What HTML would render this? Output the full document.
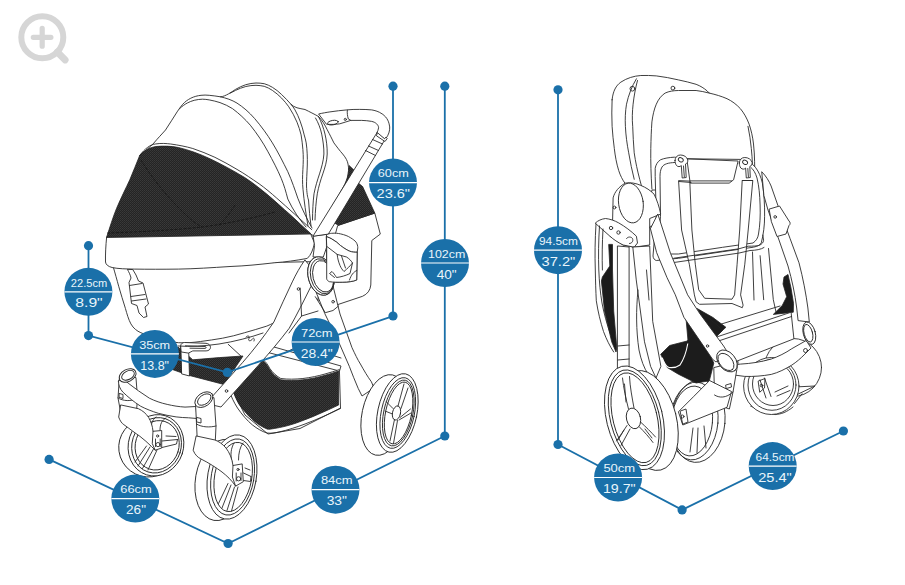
<!DOCTYPE html>
<html><head><meta charset="utf-8">
<style>
html,body{margin:0;padding:0;background:#fff;}
body{width:905px;height:585px;overflow:hidden;font-family:"Liberation Sans",sans-serif;}
svg{display:block;position:absolute;left:0;top:0;}
.ln{fill:none;stroke:#2a2a2a;stroke-width:0.9;stroke-linecap:round;stroke-linejoin:round;}
.wf{fill:#fff;stroke:#2a2a2a;stroke-width:0.9;stroke-linecap:round;stroke-linejoin:round;}
.bk{fill:#1c1c1c;stroke:#222;stroke-width:0.8;stroke-linejoin:round;}
.bl{fill:none;stroke:#1a70a9;stroke-width:1.8;stroke-linecap:round;}
.bd{fill:#1a70a9;}
.t1{fill:#e9f5fb;font-family:"Liberation Sans",sans-serif;font-size:11.5px;text-anchor:middle;}
.t2{fill:#e9f5fb;font-family:"Liberation Sans",sans-serif;font-size:12.5px;text-anchor:middle;}
.dv{stroke:#fff;stroke-width:1.2;}
</style></head><body>
<svg width="905" height="585" viewBox="0 0 905 585">
<!-- MAGNIFIER -->
<g id="mag" fill="none" stroke="#d6d6d6" stroke-linecap="round">
<circle cx="42.3" cy="37.3" r="21" stroke-width="6"/>
<path d="M33.3 37.3H50.9M42.2 28.4V46.2" stroke-width="5.2"/>
<path d="M57.3 52L65.2 60" stroke-width="6.8"/>
</g>
<!-- STROLLER-LEFT -->
<g id="sl">
<!--SL1-->
<defs>
<pattern id="mesh" width="2" height="2" patternUnits="userSpaceOnUse"><rect width="2" height="2" fill="#242424"/><rect width="1" height="1" fill="#3a3a3a"/><rect x="1" y="1" width="1" height="1" fill="#343434"/></pattern>
</defs>
<!-- rear body (right side box) -->
<path class="wf" d="M338 225.5L374.8 213.1L380.3 234.1L371.8 240.5L370.8 285Q370 293 362.5 296.3L338 304.5L318 300Z"/>
<!-- rear mesh -->
<path class="bk" fill="url(#mesh)" d="M345 172L362.6 186.6L374.8 213.1L338.3 225.2L326 218Z" style="fill:url(#mesh)"/>
<!-- canopy -->
<path class="wf" d="M139.8 155.3C146 150 150 147 153 144C158 138 162 134 165.5 130C169.5 124 173.5 117.5 177.1 111.9C179 109 180.8 106.5 182.6 104.4C185 101.7 187.8 99.7 190.8 98.2C194 96.6 197.5 95.7 201 95.3C203.7 95 206.5 95 209.2 95.3C213 95.6 216.7 96.2 220.4 96.8C223.5 96.6 226 95.2 228.3 94C231 92.5 233.2 90.9 235.5 89.4C238.8 87.4 242.2 85.9 245.8 84.7C249.2 83.7 252.6 83.1 256 83C258.8 83 261.5 83.2 264.2 83.7C267 84.5 269.8 85.7 272.4 87.3C275.7 89.3 278.7 91.7 281.6 94.5C285 97.7 288 101 290.9 104.2C292.5 105.8 294.5 107 297 107.8C299.5 108.5 302.3 108.9 305 109.5C310 112 314 114 318.4 116.4C322 120 325 125 327.2 129.7C330 135 332 139 333.9 142.9C337 147 340 151 342.7 154C346 158 347.5 161 348 164C349 168 348.5 173 347.5 177C346 182 344 186 341.6 190C339 195 336 199.5 333.9 203.1L326 218L314 236L300 228Z"/>
<!-- ribs -->
<path class="ln" d="M220.4 96.8C226 98 232 100 237 103.1C243 107 249 112 254.7 118.6C261 126 267 134 272.4 142.9C278 152 283 162 287.8 171.7C292 181 295 190 297.8 198.2C302 209 307 219 312 228"/>
<path class="ln" d="M179.8 108.5C182 106.3 184.6 104.5 187.3 103C189.5 101.8 191.8 101 194.2 100.3C197 99.6 199.7 99.3 202.4 99.2C204.7 99.2 207 99.5 209.2 99.9C213 100.6 216.6 101.5 220 102.6C224.5 104.2 228.8 106.2 232.6 108.7C239 113.5 245 119 250.3 125.2C257 133.5 263 142.5 268 151.8C273 161 277.5 169.5 281.2 178.3C284 185 286 192 287.8 199C293 210 299 219 306 227"/>
<path class="ln" d="M290.9 104.2C292.5 106 293.8 107.9 295 109.9C297 113.5 298.7 117.2 300.1 121.1C301.8 125.6 303.1 130.2 304.2 134.9C305 137.5 305.7 140.2 306.2 142.9C307.2 150 307.5 157.5 307.3 165C307 173 306.5 180 306.5 186C306.8 193 307.5 197 308.5 200C309 209 310 218 311 226"/>
<path class="ln" d="M230 93.2C231.8 92.4 233.7 91.4 235.5 90.4C238.8 88.8 242.2 87.5 245.8 86.5C249.2 85.7 252.6 85.3 256 85.3C258.8 85.4 261.5 85.7 264.2 86.3C267 87.2 269.8 88.6 272.4 90.4C275.7 92.6 278.7 95.2 281.6 98.1C284.2 100.8 286.6 103.7 288.8 106.8C292 111.6 294.7 116.8 297 122.2C298.7 126.3 300 130.5 301.1 134.9C301.9 139.7 302.5 144.6 302.9 149.6C303.5 156 303.3 163 302.9 169.4C302.5 176 302.3 183 303 189.3C304 201 306 214 308 226"/>
<path class="ln" d="M318.4 116.4C321.5 122 323.5 128 325 134.1C326.5 140.5 327.3 147 327.2 154C327 161 325 167.5 322.8 173.9C320.5 180.5 318.5 187 317.3 193.8C316 202 315.3 211 315 220"/>
<path class="ln" d="M315.5 118C318.5 123 320.5 128.5 321.7 134.1C323 140.5 324 147.5 323.9 154C323.5 161 321.5 167.5 319.5 173.9C317.3 180.5 315.3 187 314 193.8C313 202 312.6 211 312.5 220"/>
<!-- front mesh -->
<path d="M139.7 155.5C144 151 149 147.5 156 146.5C163 145.8 171 146 178.4 147.5C189 150 200 154 210.5 159C222 164.5 233 170.5 244.7 177.5C254 183.5 261 189.5 266.8 194.1C275 201 283 208.5 290 214.5C297 221 304 227.5 310.7 233.5L230 236.3L106.6 237.2C110 227 113 217 116.5 208.5C121 198 125.5 189 129.8 179.8C133 172 136.5 163.5 139.7 155.5Z" fill="url(#mesh)" stroke="#222" stroke-width="0.8"/>
<path d="M141 160C150 175 165 195 185 214C190 219 196 224 202 227M107 233C140 232 175 230 202 227C225 224 250 219 275 212M235 205C230 213 224 221 218 226" fill="none" stroke="#0c0c0c" stroke-width="0.8" stroke-dasharray="3 1.5" opacity="0.8"/>
<!-- rim line -->
<path class="ln" d="M139.8 155.3C145 148.5 150 144.8 155.2 144C162 143 166 143.5 170.7 144C178 145 186 146.5 192.8 148.5C200 151 208 154 214.9 157.3C222 161 230 165 237 169.4C245 174 252 179 259.1 183.8C265 188 271 193 276.8 198.2C288 208 300 219 311.8 229.7"/>
<!-- body tub -->
<path class="wf" d="M113 266C115 273 117 280 118.7 286.3C121 294 123 301 125.4 308.4C127 314 128.5 319.5 130.9 323.9C133.5 328.5 137 331 140.8 332.7C152 337.5 165 341.5 178.4 342.7C186 343.2 193 342.5 200.5 341.5C208 340.5 215 339.5 222.6 338.2C230 336.8 237 335 244.7 332.7C252 330.5 259.5 328.5 266.8 326.1C272 324 277.5 321 282.3 317.2C290 311 297 303 303 294L314 262Z"/>
<!-- bumper -->
<path class="wf" d="M106.6 237.5L310.7 234L314.5 243C313 250 311 255 307.3 258.4C296 260.5 285 262 274.2 262.8C259 264.5 245 266 230 266.5C212 267.7 195 268.8 178.4 269.1C163 269.3 148 269.3 134.2 269.1C126 269 118 268.8 112.1 267.5C108 266.5 105.8 264.5 105.5 262C105.3 254 105.8 246 106.6 237.5Z"/>
<!-- buckle -->
<path class="wf" d="M127.6 269.7C129 272.5 130.5 275 131 278L129 282.5L131.5 303.5L137 305.5L139 313L143.5 317.5L147 316.5L145 307L148.5 304L143 283L138.5 281L136 275L133 269.9Z"/>
<path class="ln" d="M129.5 285.5L142 283.5M131 296.5L145 294.5M131.5 301L146 299"/>
<!--/SL1-->
<!--SL3-->
<!-- under-seat black A -->
<path d="M172 352L178 347L192.8 359.8L219.3 357.6L243 356L224 384.5L188.4 375.2L171 369Z" fill="url(#mesh)" stroke="#222" stroke-width="0.8"/>
<!-- front strap over black A -->
<path class="wf" d="M181 346L188.5 346L189.5 376L182 374Z"/>
<!-- front loop handle -->
<path class="wf" d="M180.700 345.500C181 343.500 182.500 342.600 184.500 342.500L206 343.300C208.500 343.500 210.300 345 210.500 347.300C210.400 349.500 208.800 350.800 206.100 350.900L192.800 350.900L188.400 353.100L181.500 352Z"/>
<path class="ln" d="M185.500 345.800L205 346.500C206.500 346.700 206.500 348.300 205 348.400L190 348.200"/>
<path class="ln" d="M228.200 344.300L241.400 356.500M246 337C248 335 250 336 249 338.500C247.500 341 250.500 341.500 252 339.500C253.500 337 255 338.500 254 341"/>
<!-- seat-bottom tray lines -->
<path class="ln" d="M178 346C190 347 205 346 219 344C235 341.5 250 337.5 263 333"/>
<!-- basket rim tubes -->
<path class="wf" d="M264 350L268.7 345.5L341 366L339.5 371L268 352.5Z"/>
<path class="ln" d="M285 353L300 345M300 345L341 358"/>
<!-- basket white hem + black -->
<path class="wf" d="M263.1 359.5C266 362 268 365 269.8 368.5C273 373 277 376.5 280.8 378.5C288 379.5 295 379.3 302.9 378.5C311 377.5 318 376 325 374C330 372.7 335 371 339.4 369.6L340.5 408L300 428.5L268 434L245 415L232 389Z"/>
<path d="M232.6 388.5L254.3 366.3L263.1 360.8C266 363.5 268 366.5 269.8 369.8C273 374.3 277 377.8 280.8 379.8C288 380.8 295 380.6 302.9 379.8C311 378.8 318 377.3 325 375.3C330 374 335 372.3 338.6 371L338.6 405C332 408 325 411.5 318.4 414.2C311 417.5 303 420.5 296.3 423C289 425.5 281 427.5 274.2 428.5C271 429 269 429.5 267 429C261 426.5 256 423 252.1 419.3C247 414.5 242.5 409 238.8 403.9C236 399 234 394 232.6 388.5Z" fill="url(#mesh)" stroke="#222" stroke-width="0.8"/>
<path class="ln" d="M229 390C231 396.5 234 402.5 237.5 408C242 414.5 247 420.5 252.5 425C257 428.5 262 431.5 267 433C271 433.5 275 433 279 432C288 430 297 427 305 424C317 419.5 329 414 340.5 408.5"/>
<!-- rear leg -->
<path class="wf" d="M316 291L332.7 284.7L340 314L352 347.7C355 354 357.5 359.5 360.4 364C364 370.5 367.5 376.5 371.4 381.8L374 388L362 396L358.2 388.4C355 381 352 373.5 349.3 366.3L340 345L325 314Z"/>
<path class="ln" d="M315.3 296.7L325.3 312.7L333 310.5L338.5 306"/>
<circle class="ln" cx="333.1" cy="301.7" r="1.3"/>
<!-- front leg -->
<path class="wf" d="M304.7 260.2C300 267 296 274 292.3 281.9C286 295 280 308.5 273.8 322.1C264 336.5 254 349.5 242.8 362.3L206 403.5L221 407L258.3 365.4C269 353.5 279.5 341 289.2 328.3C297 314.5 304 300.5 310.9 286.5L316 274Z"/>
<circle class="ln" cx="298.5" cy="289" r="1.3"/>
<path class="ln" d="M300.1 288L301.6 316L289 333M301.6 316L318 311"/>
<circle class="ln" cx="226.5" cy="391" r="1.3"/>
<!-- hub redraw -->
<ellipse class="wf" cx="321" cy="276" rx="12.8" ry="19.5" transform="rotate(-14 321 276)"/>
<ellipse class="ln" cx="323.2" cy="276.3" rx="10.2" ry="16" transform="rotate(-14 323.2 276.3)"/><ellipse class="ln" cx="322.2" cy="276.2" rx="11.5" ry="17.8" transform="rotate(-14 322.2 276.2)"/>
<!--/SL3-->
<!--SL4-->
<!-- FAR FRONT WHEEL -->
<g id="wheelFL">
<ellipse class="wf" cx="148.5" cy="447.5" rx="29.8" ry="29.5" transform="rotate(15 148.5 447.5)"/>
<ellipse class="wf" cx="156" cy="445.3" rx="27.6" ry="31" transform="rotate(18 156 445.3)"/>
<ellipse class="ln" cx="156.6" cy="445.3" rx="24.6" ry="28" transform="rotate(18 156.6 445.3)"/>
<ellipse class="ln" cx="157.2" cy="445.3" rx="21.8" ry="25" transform="rotate(18 157.2 445.3)"/>
<path class="ln" d="M150 447L138 466M153.5 449L142.5 468.5M146.5 446L135 462M157 450L148 470"/>
<path class="ln" d="M162 441L177.5 439.5M162 447.5L176.5 444L177.5 439.5M166 436L176 436.5"/>
<path class="ln" d="M152 432C150 425 152 420 156 417M160 430C160 424 162 420 166 418"/>
</g>
<!-- NEAR FRONT WHEEL -->
<g id="wheelFR">
<ellipse class="wf" cx="221" cy="480" rx="25.5" ry="41" transform="rotate(10 221 480)"/>
<ellipse class="wf" cx="232" cy="477" rx="24.3" ry="42.6" transform="rotate(10 232 477)"/>
<ellipse class="ln" cx="232.6" cy="477" rx="21.3" ry="38.5" transform="rotate(10 232.6 477)"/>
<ellipse class="ln" cx="233.2" cy="477" rx="18.6" ry="35" transform="rotate(10 233.2 477)"/>
<path class="ln" d="M231 485L222 508M234.5 487L227 510.5M228 483.5L218.5 503.5M238 487L231.5 511"/>
<path class="ln" d="M243.5 473L251 476.5M243.5 480.5L250.5 481.5L251 476.5M245 468L250 470"/>
<path class="ln" d="M232 462C230 455 231 448 234 443M238.5 460C238.5 453 240 447 243 443"/>
</g>
<!-- left caster housing -->
<path class="wf" d="M119.5 376L118 398L121 414L136 418L137.5 398L136 378Z"/>
<path class="wf" d="M118.8 417.4C120 421 122 423.5 123.9 424.7C130 429 135 433 139.9 436.3C144 439.5 148 443 151.5 446.5L155.2 450.2L161.7 448L161.7 430.5L153 431.3C152.5 426 151 421.5 148.6 417.4C146 413.5 142.5 410.5 138.4 408.7L121 405Z"/>
<path class="ln" d="M153 431.3L152.3 443.6L155.2 450.2"/>
<circle class="ln" cx="157.6" cy="436" r="1.1"/><circle class="ln" cx="158" cy="444.6" r="2.1"/>
<path class="ln" d="M155.5 439V446.5M160.2 439V446.5"/>
<path class="ln" d="M118 398C123 401 131 402 137.500 398"/>
<!-- front axle bar -->
<path class="wf" d="M118.5 381C121 379 125 380 128.1 383.1C135 388.5 142 393.5 149.4 398.2C155 401 161 403 167.2 404.4C173 405.8 179 406.7 185 407.1L196 406.5L197 418.5L188.6 417.8C184.5 417.7 180.3 417.4 176.1 416.9C170 416 164 414.8 158.3 413.3C152 411.3 146 409 140.6 406.2C134 402 128 397 122.8 392C120 389 118.3 385 118.5 381Z"/>
<ellipse class="wf" cx="127.6" cy="375.5" rx="9" ry="6" transform="rotate(-28 127.6 375.5)"/>
<ellipse class="ln" cx="128" cy="375.3" rx="6.8" ry="4.2" transform="rotate(-28 128 375.3)"/>
<path class="ln" d="M119.500 393.5L123 394.5L123 398.5L119.500 397.5Z"/>
<!-- right caster housing -->
<path class="wf" d="M195.5 403L196.500 424L197.5 445L215 447L216 426L214 398Z"/>
<path class="wf" d="M193.3 450.6C195 455 198 457.5 201 459C209 463 216 467.5 222 472C227 476 231.5 480 235.6 486.1L243.3 481.7L242.2 463.9L233 465.5C232 458.5 229.5 452.5 226 448C222.5 444 219 441.5 215 440L196.5 436Z"/>
<path class="ln" d="M233 465.5L232.4 477L235.6 486.1"/>
<circle class="ln" cx="238" cy="469.5" r="1.1"/><circle class="ln" cx="238.6" cy="478.8" r="2.1"/>
<path class="ln" d="M236.2 473V481M241 473V480.5"/>
<path class="ln" d="M196.500 424C202 427.5 210 427.500 216 426"/>
<ellipse class="wf" cx="203.9" cy="399.6" rx="10" ry="6.6" transform="rotate(-35 203.9 399.6)"/>
<ellipse class="ln" cx="204.3" cy="399.5" rx="7.6" ry="4.6" transform="rotate(-35 204.3 399.5)"/>
<path class="ln" d="M197 417.5L201 418.5L201 423L197 422Z"/>
<!-- REAR WHEEL -->
<g id="wheelR">
<ellipse class="wf" cx="384" cy="415" rx="22" ry="41" transform="rotate(12 384 415)"/>
<ellipse class="wf" cx="397.3" cy="413" rx="19.6" ry="40" transform="rotate(12 397.3 413)"/>
<ellipse class="ln" cx="397.8" cy="413" rx="16.6" ry="36" transform="rotate(12 397.8 413)"/>
<ellipse class="ln" cx="398.3" cy="413" rx="14.6" ry="33.5" transform="rotate(12 398.3 413)"/>
<ellipse class="ln" cx="398.6" cy="413" rx="13" ry="31.5" transform="rotate(12 398.6 413)"/>
<ellipse class="wf" cx="396.5" cy="413" rx="4" ry="7.2" transform="rotate(12 396.5 413)"/>
<path class="ln" d="M398 406L404 384M401 408.500L408 388M400 417.500L410.500 409M399 420L411 413M394.500 419.500L390 441M397.500 420.500L393.500 443.500M393 408.500L386.500 402M392.500 414L385 411"/>
</g>
<!--/SL4-->
<!--SL2-->
<!-- sliver -->
<path d="M349.2 165.4L354.8 170.8L328 214L336.2 204.6L343.1 190.8L347.7 178.5Z" fill="url(#mesh)" stroke="#222" stroke-width="0.6"/>
<!-- tube continuation into hub -->
<path class="wf" d="M313.5 236L326.5 234.3L326.7 247L323.3 257L313 257L314.5 246Z"/>
<!-- handle tube (diagonal) -->
<path class="wf" d="M376.6 133.3L312.9 236.3L328.3 234.1L385.1 139.3Z"/>
<path class="ln" d="M372.5 139.5L382.5 144M368.5 146L378.5 150.5M365.5 150.5L375.5 155.5"/>
<!-- handle -->
<path class="wf" d="M319 113.9C323 113 326 112.5 329.9 111.9C336 111 341 110.4 346.8 109.9C351 109.5 355 109.3 359.7 109.4C364 109.4 368 109.5 371.7 109.9C375 110.5 377.5 111.3 379.6 112.4C382 113.6 384 115 385.6 116.9C387.3 119 388.4 121 389.1 123.8C389.7 126 389.9 128 389.6 129.8C389.3 132 388.6 134 387.6 135.8C386.8 137.2 386 138.3 385.1 139.3L376.6 133.3C377.6 131.5 378.4 129.5 378.6 127.8C378.6 126.3 377.8 125 376.6 123.8C375.2 122.5 373.5 121.8 371.7 121.4C368.5 120.8 365 120.5 361.7 120.4C358 120.3 354.5 120.3 350.8 120.4C347 121.5 343.5 122.8 339.8 123.8C335.5 124.5 331 124.5 326.9 124.3Z"/>
<path class="ln" d="M347.3 110.2C347 113 347.5 116 348.3 118.9L350.8 120.4"/>
<ellipse class="ln" cx="332.9" cy="122.6" rx="5.4" ry="2.2" transform="rotate(-10 332.9 122.6)"/>
<circle class="ln" cx="345.3" cy="119.4" r="1.1"/>
<path class="wf" d="M377.6 132.8L384.6 138.8L386 137L387.2 138.5L385 141.5L376.8 136Z"/>
<!-- cup holder -->
<path class="wf" d="M326.7 235C328 233.8 330 233.4 331.7 233.3C335 233 338 233.3 340.6 233.9C344.5 234.8 348 236 350.6 237.8C353 239.3 355 240.7 356.1 242.2C357.3 244 357.8 246 357.8 247.8L357.2 252.2L356.7 280C353 281.5 348 282.1 342.8 282.2C338 282.3 333 282.3 329.4 281.7C327.8 281 326.9 280 326.7 278.9Z"/>
<path class="ln" d="M326.7 236.7C328.5 237.3 330 238 331.7 238.9C335 240.8 338 243 340.6 245.6C343.5 247.8 346.5 249.8 349.4 251.1C352 252 354.5 252.4 357.2 252.2"/>
<path class="ln" d="M327.2 246.7L337.2 254.4C337.5 258 338.5 262 340 265.5C341 268 342.5 270 344 271.5C347.5 268.5 350 266 352.5 263C351 260.5 349 258.5 346.5 257L337.2 254.4M341.5 256L345.5 268M352.5 263L350 273.5C346 275.5 341 277 336.5 277.5C335 275 333.5 273 332 271.5L329.5 273.5L334.5 277.5M356.7 270.5C353.5 272 351 275 349.5 280"/>
<!-- hub -->
<ellipse class="wf" cx="321" cy="276" rx="12.8" ry="19.5" transform="rotate(-14 321 276)"/>
<ellipse class="ln" cx="323.2" cy="276.3" rx="10.2" ry="16" transform="rotate(-14 323.2 276.3)"/><ellipse class="ln" cx="322.2" cy="276.2" rx="11.5" ry="17.8" transform="rotate(-14 322.2 276.2)"/>
<!-- re-draw cup holder on top of hub -->
<path class="wf" d="M326.7 246V278.9C326.9 280 327.8 281 329.4 281.7C333 282.3 338 282.3 342.8 282.2C348 282.1 353 281.5 356.7 280L357.2 252.2C354.5 252.4 352 252 349.4 251.1C346.5 249.8 343.5 247.8 340.6 245.6C338 243 335 240.8 331.7 238.9C330 238 328.5 237.3 326.7 236.7Z"/>
<path class="ln" d="M327.2 246.7L337.2 254.4C337.5 258 338.5 262 340 265.5C341 268 342.5 270 344 271.5C347.5 268.5 350 266 352.5 263C351 260.5 349 258.5 346.5 257L337.2 254.4M341.5 256L345.5 268M352.5 263L350 273.5C346 275.5 341 277 336.5 277.5C335 275 333.5 273 332 271.5L329.5 273.5L334.5 277.5M356.7 270.5C353.5 272 351 275 349.5 280"/>
<!--/SL2-->
</g>
<!-- STROLLER-RIGHT -->
<g id="sr">
<!--SR5-->
<!-- right wheel (mostly hidden) -->
<g id="wheelRR">
<ellipse class="wf" cx="793" cy="367.500" rx="28.500" ry="29" />
<path class="wf" d="M751 406L773 388L815 386L793 396.500L775.400 414.400Z" stroke="none"/>
<path class="ln" d="M794.500 403.500L802 393.800M775.400 414.400C781 414.500 787 412 793 407"/>
<ellipse class="wf" cx="771.300" cy="386" rx="27.700" ry="28.500"/>
<ellipse class="ln" cx="772" cy="385" rx="24" ry="25.300"/>
<ellipse class="ln" cx="773" cy="384" rx="20.500" ry="21.500"/>
<path class="ln" d="M760 380L766 398M764.500 378L771 396.500M775 392L788 386M777 396L790 390.500"/>
</g>
<!-- middle wheel -->
<g id="wheelRM">
<ellipse class="wf" cx="698" cy="421" rx="27" ry="41.500" transform="rotate(5 698 421)"/>
<ellipse class="ln" cx="694" cy="421" rx="24" ry="39" transform="rotate(5 694 421)"/>
<ellipse class="ln" cx="692" cy="421" rx="20.500" ry="35" transform="rotate(5 692 421)"/>
<path class="ln" d="M693 428L690 452M698 428L697 453M704 426L706 448"/>
</g>
<!--/SR5-->
<!--SR1-->
<!-- canopy/back silhouette -->
<path class="wf" d="M612.1 99.8C613 91 616 85.500 620.9 82.1C627 78 634 76 640.8 75.5C646 75.300 651 75.500 656.3 75.900C664 76.800 671 78.200 678.4 79.900C684.5 81.200 690.500 82.600 696.1 84.300C700.500 86 704 88.200 707.1 90.900L709.3 93.100C715.500 94.500 721.500 96.300 727 98.700C732 101 736.500 104.500 740.3 108.600C744 113 747 118.500 749.1 124.100C751.300 130.500 752.700 137 753.500 144C754.200 150 754.500 156 754.600 161.700L755 190L652 190L640 235L630 184C628 184 626.500 184 625.400 183.800C622.500 180 620.300 175.500 618.700 170.500C616.500 163.500 615.200 156 614.300 148.400C613.300 141 612.600 133.500 612.100 126.300C611.700 117.500 611.700 108.500 612.100 99.800Z"/>
<path class="ln" d="M636.4 78.8C632 86 628.500 95 626.500 104.200C625.300 111.500 625 119 625.400 126.300C625.800 135.500 627 144 628.700 152.800C630.300 162 632 171 634.200 179.300"/>
<path class="ln" d="M637.5 80.5C635.500 88 634 96 633.100 104.200C632.300 111.500 632 119 632.700 126.300C633 135.500 633.500 144 634.200 152.800C635.500 162 637.500 171 639.700 179.300L641.500 186"/>
<circle class="ln" cx="632.4" cy="88.7" r="2.400"/>
<circle class="ln" cx="672.9" cy="88.1" r="1.900"/>
<!-- seat back front panel -->
<path class="ln" d="M651.9 189C651 175 650.600 162 650.800 148.400C651 139 651.300 130.500 651.900 121.900C652.800 115 654.200 109 656.300 104.200C658.300 99.500 661.300 95.500 665.100 93.100C669 91.200 673.500 90.600 678.400 90.500L696.100 90.500C700.500 91 705 92 709.300 93.100"/>
<path class="ln" d="M748 126.300C749.500 133.500 750.600 141 751.300 148.400C751.900 153.500 752.200 159 752.400 163.900"/>
<!--/SR1-->
<!--SR2-->
<!-- seat frame rounded rect -->
<path class="wf" d="M674 157.200C669 157.500 664.500 158.200 660.700 159.700C657.500 161.500 655.700 165 655.200 168.300L655.200 176.500L656.300 216.300L653 256C653.300 258.500 654.500 260 656.300 260.500L678.400 258.300L722.600 251.700L753.500 247.200C757.500 246.300 760.200 245 761.300 242.800C763.500 234 764.600 225.500 764.600 216.300C764.800 205 764 194 762.400 183.100C761 177 758.800 171.800 755.700 167.700C753.800 165.300 751.600 163.500 749.100 162.200L740.300 159.400L687.200 158.800Z"/>
<path class="ln" d="M687.2 158.8L738.1 161L733.6 179.800L729.200 183.100L690.600 183.100ZM690 180.900L731.500 180.900"/>
<path class="ln" d="M674.6 162.5C668 162.800 664 164 662 167C660.500 169.500 660 173 660 176.500L660.500 216.300L657.500 254L678.400 254L722.600 247.300L753 243C756 241 758 238 758.500 234C760 225 760.500 216 760.100 205C759.800 195 759 186 757 178C755.500 173 753.500 169.500 751 167.500"/>
<!-- left strap + hook -->
<path class="wf" d="M678.6 181L681.6 230L689.3 264.2L694.4 294.9L696.1 301.8L699.5 304.3L732 303.5L742.3 307.7L743.1 305.2L740.6 294.9L744.8 264.2L748.2 230L752.8 180.5L742.2 180.5L739.7 230L737.1 264.2L734.6 294.9L732 299.2L704.7 298.3L698.7 289.8L695.3 264.2L691.9 230L689.8 181.5Z"/>
<path class="wf" d="M675 160.5C675 157 677.5 155 680.5 155C684 155 687 157 687.8 160C688 162 687 163.5 685.5 164L686.2 177.5L682.2 178L681.3 165.500C680 167 678 167 676.5 165.5C675.5 164 675 162.500 675 160.500Z"/><ellipse class="ln" cx="680.8" cy="159.8" rx="2.6" ry="2" transform="rotate(30 680.8 159.8)"/><path class="ln" d="M683.500 166L684.300 177"/>
<path class="wf" d="M739.3 163C739.300 159.500 741.800 157.500 744.800 157.500C748.300 157.500 751.300 159.500 752.100 162.500C752.300 164.500 751.300 166 749.800 166.500L750.300 177.500L746.300 178L745.600 168C744.300 169.500 742.300 169.500 740.800 168C739.800 166.500 739.300 165 739.300 163Z"/><ellipse class="ln" cx="745.1" cy="162.3" rx="2.6" ry="2" transform="rotate(30 745.1 162.3)"/><path class="ln" d="M747.800 168.500L748.400 177"/>
<path class="ln" d="M679 181.500L691 182.500M742.300 180.500L752.600 180.500"/>
<!--/SR2-->
<!--SR3-->
<!-- left joint housing -->
<path class="wf" d="M613.2 197.500C614.500 192 619 186.500 625.400 183.100C630.500 182.200 636 183.200 640.800 185.400C646 187.500 650.500 190.500 654.100 194.200C657 200 659.300 207 660.700 214.100L649.700 218.500L649.700 245L634.200 247.200L623.100 245L609.900 236.200L612.500 222Z"/>
<ellipse class="wf" cx="630.9" cy="203" rx="12.3" ry="20" transform="rotate(-8 630.9 203)"/>
<circle class="ln" cx="614.500" cy="207.500" r="1.400"/><circle class="ln" cx="651.300" cy="227.500" r="1.400"/>
<!-- lower-left bracket -->
<path class="wf" d="M595.5 222.900C598 220.500 601.500 219 605.500 218.500C610 219 614.500 220.500 618.700 222.900C625 226.500 631 231 636.400 236.200L637.500 243L634.200 247.200L623.100 245C618 242.500 613.500 239.500 609.900 236.200Z"/>
<circle class="ln" cx="611" cy="228" r="1.700"/><circle class="ln" cx="618.500" cy="232.500" r="1.700"/>
<path class="ln" d="M626.500 238.500C628 236.500 631 236.500 632.500 238.500C633.500 241 632 243.500 629.500 243.500"/>
<!-- left fabric lines -->
<path class="ln" d="M596 224C595 240 594.8 255 595.3 270C595.5 281 595.8 291 596.3 300.8C598 312 600.5 322 603.5 331.5C606.5 339.5 610 346.5 613.7 352M599.5 226C598.5 241 598.3 256 598.8 270C599.3 282 600.3 293 602 303C604 314 607 324 610 333M603 229C602.2 243 602 257 602.4 270"/>
<!-- black sliver -->
<path class="bk" d="M608.7 244.4L609.8 266L602.4 277L601.4 281L604.5 311L611.7 341.8L616 352L616.8 348L613.7 311L612.5 270L612.5 244.4Z"/>
<!-- left vertical leg -->
<path class="wf" d="M617.8 246L629.1 247L629.1 372L617.8 374Z"/>
<path class="ln" d="M617.8 346L629.1 345M617.8 360L629.1 359"/>
<path class="wf" d="M633.2 247L649.7 246L652.7 321.3L660.9 366.4L656 378L650.6 366.4L644.5 341.8L636.3 280.3Z"/>
<path class="ln" d="M646.5 270L649 300M638 290C636 310 636 330 639 350C641 360 644 368 648 374"/>
<!--/SR3-->
<!--SR4-->
<!-- right leg (curved tube) -->
<path class="wf" d="M762 172C766 176 769 181 771.1 186L777.800 205.200L790 238.400L799 262.800C803 278 806 294 807.9 308L809.300 322L798.100 320.600L796.700 308C795 294 792 280 788 266L779 240L768 210L764 196Z"/>
<path class="wf" d="M769.500 209L779.500 206L789 221C790.500 222 790.500 224.500 789 225.500L786 234L777 236.500L771.500 222Z"/>
<circle class="ln" cx="775.2" cy="216.9" r="1.300"/>
<path class="ln" d="M760.100 255.700L763.700 299.700M768.500 248.500L773.300 299.700L776 312M752.500 252L754 300"/>
<!-- horizontal bar -->
<path class="ln" d="M673.9 258.2L738.8 248.8L748.2 246.2C753 246.200 757 246 759.300 245.400C762 244 763.400 242.500 763.600 240.300L762.800 235.100M673.900 262.500L738.800 253.100L750 250.500C756 250.300 761 249.500 764 247.500"/>
<!-- central black basket -->
<path class="bk" d="M686.100 319.600L688.300 343.900L703 344.500Z"/>
<path class="bk" d="M697.100 308.500L712.600 317.300L725.900 327.300L717 335.500L708 326Z"/>
<path class="bk" d="M660.700 354.300L669.600 345.500L687.200 341L696.100 330L704.900 343.300L713.800 363.100L709.300 380.800L696.100 383L678.400 374.200L667.300 367.600Z"/>
<path d="M662.200 357.800C664 363 667 367 669 367.500C674 368 678 366.500 680 365C684 359 686.500 351 687.800 343.500" fill="none" stroke="#fff" stroke-width="1.1"/>
<!-- right black -->
<path class="bk" d="M784 277L788 274.500L791 288L793.500 303.300L793.300 312.200L773.300 314.400L782.200 305.600L786.700 296.700L783 284Z"/>
<path class="bk" d="M700 310.800L716.800 324.800L722.400 330.400L715.400 337.400L705.600 338.800L700 332Z"/>
<!-- tray -->
<path class="wf" d="M715.400 337.400L791.100 312.200L793.900 338.800L736.400 361.300L722 352Z"/>
<path class="ln" d="M717 341.500L791.500 316.500M721.400 324L780 306"/>
<!-- diagonal tube -->
<path class="wf" d="M650.6 228.3L657.8 214L670.5 253.3L687.6 294.8L699.3 312.9L723.6 346L728 353L716 362L712.6 359.3L683.9 317.3L675.3 294.8L667 277.6L656.8 253Z"/>
<circle class="ln" cx="707.5" cy="346" r="1.200"/>
<!-- front axle bar -->
<path class="wf" d="M736.400 364.500L740.500 364.100C751 363.500 761 362 771.300 359C778.500 356.500 785.500 353 791.800 348.700L806.200 340.500L811 348L804.100 354.900C800.500 358.500 796.500 362 791.800 365.100C785.500 369 778.500 372.500 771.300 374.400C762.500 376 753.500 376.700 744.600 376.400L734 375Z"/>
<circle class="ln" cx="761.500" cy="385.500" r="1.300"/><path class="ln" d="M758.500 381L765 378.500L764.500 388L760 392Z"/>
<!-- right hub -->
<ellipse class="wf" cx="809.300" cy="333.200" rx="6" ry="11.500" transform="rotate(-15 809.300 333.200)"/>
<ellipse class="ln" cx="808.300" cy="333.200" rx="4.200" ry="9" transform="rotate(-15 808.300 333.200)"/>
<circle class="ln" cx="805.500" cy="350.500" r="2"/>
<!--/SR4-->
<!--SR6-->
<!-- middle caster housing -->
<path class="wf" d="M713.800 368L714.500 395L712.600 403L729.400 409L733 392L738.100 362Z"/>
<path class="wf" d="M709.300 380.800L693.900 396.300L678.400 411.800L682.800 425L727 407.300L731.400 391.900Z"/>
<circle class="ln" cx="682.500" cy="416.500" r="1.500"/>
<path class="ln" d="M680.500 411L686 409L688 422L683 424Z"/>
<ellipse class="wf" cx="727" cy="361" rx="12.500" ry="8.500" transform="rotate(50 727 361)"/>
<ellipse class="ln" cx="726" cy="362" rx="10" ry="6.300" transform="rotate(50 726 362)"/>
<path class="ln" d="M714.500 395C719 398 726 398.500 733 392"/>
<path class="ln" d="M726 385L731 383.500L731.500 387L726.500 388.500Z"/>
<!--/SR6-->
<!--SR7-->
<!-- big rear wheel -->
<g id="wheelRL">
<ellipse class="wf" cx="648.5" cy="420.5" rx="28" ry="51" transform="rotate(-14 648.5 420.5)"/>
<ellipse class="wf" cx="634.5" cy="417.8" rx="28" ry="53" transform="rotate(-14 634.5 417.8)"/>
<ellipse class="ln" cx="634.8" cy="417.8" rx="24.5" ry="49" transform="rotate(-14 634.8 417.8)"/>
<ellipse class="ln" cx="635" cy="417.8" rx="22" ry="46" transform="rotate(-14 635 417.8)"/>
<ellipse class="wf" cx="633.5" cy="418.4" rx="7" ry="10.5" transform="rotate(-14 633.5 418.4)"/>
<path class="ln" d="M628.5 409C626 399 623.5 388 622.5 378M634 408C632 397 630 387 629.500 376.500M626 402L624.500 384"/>
<path class="ln" d="M640.500 422C646 427 651 432 655.500 437M639.500 427C644.500 432 649 437 653 442.500M645 429L652 438"/>
<path class="ln" d="M627 425.500C623.500 431 620 436 616.500 441M630 429C627 434.500 624 440 621 445.500M624 430L618 440"/>
</g>
<!--/SR7-->
</g>
<!-- BLUE -->
<g id="blue">
<path class="bl" d="M393 86.2V316L227.3 372.4L88.5 335.6V245.7"/>
<path class="bl" d="M444.8 86.2V436L228.1 543.5L49.1 459.4"/>
<path class="bl" d="M558 89.8V444.5L682.1 509.9L843.4 431"/>
<g class="bd">
<circle cx="393" cy="86.2" r="4.6"/><circle cx="444.8" cy="86.2" r="4.6"/>
<circle cx="393" cy="316" r="4.6"/><circle cx="227.3" cy="372.4" r="4.6"/>
<circle cx="88.5" cy="335.6" r="4.6"/><circle cx="88.5" cy="245.7" r="4.6"/>
<circle cx="444.8" cy="436" r="4.6"/><circle cx="228.1" cy="543.5" r="4.6"/>
<circle cx="49.1" cy="459.4" r="4.6"/>
<circle cx="558" cy="89.8" r="4.6"/><circle cx="558" cy="444.5" r="4.6"/>
<circle cx="682.1" cy="509.9" r="4.6"/><circle cx="843.4" cy="431" r="4.6"/>
<circle cx="393" cy="182.6" r="24"/>
<circle cx="445" cy="263" r="24"/>
<circle cx="315.6" cy="342" r="24"/>
<circle cx="88.4" cy="291.8" r="24"/>
<circle cx="154.9" cy="353.9" r="24"/>
<circle cx="135.3" cy="498.6" r="24"/>
<circle cx="335.5" cy="489.7" r="24"/>
<circle cx="558" cy="250.2" r="24"/>
<circle cx="618.1" cy="477.5" r="24"/>
<circle cx="772.7" cy="466.1" r="24"/>
</g>
<g class="dv">
<path d="M369 182.6h48"/><path d="M421 263h48"/><path d="M291.6 342h48"/><path d="M64.4 291.8h48"/>
<path d="M130.9 353.9h48"/><path d="M111.3 498.6h48"/><path d="M311.5 489.7h48"/><path d="M534 250.2h48"/>
<path d="M594.1 477.5h48"/><path d="M748.7 466.1h48"/>
</g>
<text class="t1" x="393.3" y="177.3" style="font-size:11.5px" textLength="31" lengthAdjust="spacingAndGlyphs">60cm</text><text class="t2" x="393.3" y="198.2" textLength="33.5" lengthAdjust="spacingAndGlyphs">23.6&quot;</text>
<text class="t1" x="446.7" y="257.7" style="font-size:11.5px" textLength="37.3" lengthAdjust="spacingAndGlyphs">102cm</text><text class="t2" x="446.7" y="278.6" textLength="20" lengthAdjust="spacingAndGlyphs">40&quot;</text>
<text class="t1" x="316.8" y="336.7" style="font-size:11.5px" textLength="31.5" lengthAdjust="spacingAndGlyphs">72cm</text><text class="t2" x="316.8" y="357.6" textLength="32" lengthAdjust="spacingAndGlyphs">28.4&quot;</text>
<text class="t1" x="89" y="286.5" style="font-size:10.1px" textLength="36.4" lengthAdjust="spacingAndGlyphs">22.5cm</text><text class="t2" x="89" y="307.4" textLength="27.4" lengthAdjust="spacingAndGlyphs">8.9&quot;</text>
<text class="t1" x="154.7" y="348.6" style="font-size:11.5px" textLength="31" lengthAdjust="spacingAndGlyphs">35cm</text><text class="t2" x="154.7" y="369.5" textLength="28.7" lengthAdjust="spacingAndGlyphs">13.8&quot;</text>
<text class="t1" x="136" y="493.3" style="font-size:11.5px" textLength="31.5" lengthAdjust="spacingAndGlyphs">66cm</text><text class="t2" x="136" y="514.2" textLength="19.9" lengthAdjust="spacingAndGlyphs">26&quot;</text>
<text class="t1" x="336.8" y="484.4" style="font-size:11.5px" textLength="31.8" lengthAdjust="spacingAndGlyphs">84cm</text><text class="t2" x="336.8" y="505.3" textLength="20.3" lengthAdjust="spacingAndGlyphs">33&quot;</text>
<text class="t1" x="558.4" y="244.9" style="font-size:10.1px" textLength="38.9" lengthAdjust="spacingAndGlyphs">94.5cm</text><text class="t2" x="558.4" y="265.8" textLength="33.7" lengthAdjust="spacingAndGlyphs">37.2&quot;</text>
<text class="t1" x="619.3" y="472.2" style="font-size:11.5px" textLength="31.8" lengthAdjust="spacingAndGlyphs">50cm</text><text class="t2" x="619.3" y="493.1" textLength="32.7" lengthAdjust="spacingAndGlyphs">19.7&quot;</text>
<text class="t1" x="775" y="460.8" style="font-size:10.1px" textLength="38.9" lengthAdjust="spacingAndGlyphs">64.5cm</text><text class="t2" x="775" y="481.7" textLength="33.6" lengthAdjust="spacingAndGlyphs">25.4&quot;</text>
</g>
</svg>
</body></html>
